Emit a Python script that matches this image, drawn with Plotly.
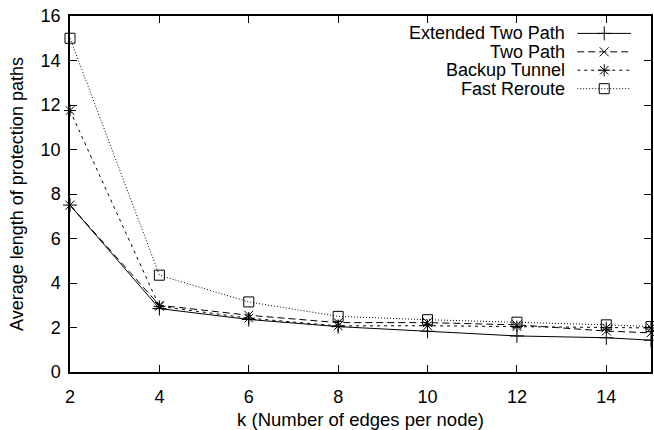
import plotly.graph_objects as go

k = [2, 4, 6, 8, 10, 12, 14, 15]
extended_two_path = [7.5, 2.85, 2.36, 2.04, 1.83, 1.62, 1.54, 1.43]
two_path = [7.5, 3.0, 2.55, 2.22, 2.22, 2.12, 1.84, 1.76]
backup_tunnel = [11.75, 2.95, 2.42, 2.07, 2.08, 2.04, 1.99, 1.98]
fast_reroute = [15.0, 4.35, 3.15, 2.5, 2.35, 2.24, 2.12, 2.04]

names = ["Extended Two Path", "Two Path", "Backup Tunnel", "Fast Reroute"]
series = [extended_two_path, two_path, backup_tunnel, fast_reroute]
dashes = ["solid", "7px,4px", "3px,4px", "1px,2px"]
symbols = ["cross-thin-open", "x-thin-open", "asterisk-open", "square-open"]
msizes = [10, 9, 10, 10]

FONT = "Liberation Sans, Arial, sans-serif"

fig = go.Figure()
for name, ys, d, s, ms in zip(names, series, dashes, symbols, msizes):
    fig.add_trace(go.Scatter(
        x=k, y=ys, mode="lines+markers", name=name,
        line=dict(color="black", width=1, dash=d),
        marker=dict(symbol=s, size=ms, color="black", line=dict(color="black", width=1)),
        showlegend=False, cliponaxis=False,
    ))

# custom gnuplot-style legend (text right, sample on the right)
for i, (name, d, s, ms) in enumerate(zip(names, dashes, symbols, msizes)):
    fig.add_trace(go.Scatter(
        x=[0.0, 0.5, 1.0], y=[i] * 3, mode="lines",
        line=dict(color="black", width=1, dash=d),
        xaxis="x2", yaxis="y2", showlegend=False, hoverinfo="skip",
    ))
    fig.add_trace(go.Scatter(
        x=[0.5], y=[i], mode="markers",
        marker=dict(symbol=s, size=ms, color="black", line=dict(color="black", width=1)),
        xaxis="x2", yaxis="y2", showlegend=False, hoverinfo="skip",
    ))
    fig.add_annotation(
        x=0.855, y=0.9515 - 0.0518 * i, xref="paper", yref="paper", text=name,
        showarrow=False, xanchor="right", yanchor="middle",
        font=dict(family=FONT, size=18, color="black"),
    )

fig.update_layout(
    width=654, height=430,
    margin=dict(l=70, r=1, t=16, b=57),
    plot_bgcolor="white", paper_bgcolor="white",
    font=dict(family=FONT, size=16, color="black"),
    xaxis=dict(
        range=[2, 15], tick0=2, dtick=2, ticks="inside", ticklen=7,
        tickcolor="black", showline=True, linecolor="black", linewidth=1.5,
        mirror="ticks", showgrid=False, zeroline=False,
        title=dict(text="k (Number of edges per node)", standoff=9,
                   font=dict(family=FONT, size=18.5, color="black")),
        tickfont=dict(family=FONT, size=18, color="black"), ticklabelstandoff=8,
    ),
    yaxis=dict(
        range=[0, 16], tick0=0, dtick=2, ticks="inside", ticklen=7,
        tickcolor="black", showline=True, linecolor="black", linewidth=1.5,
        mirror="ticks", showgrid=False, zeroline=False,
        title=dict(text="Average length of protection paths", standoff=12,
                   font=dict(family=FONT, size=18, color="black")),
        tickfont=dict(family=FONT, size=18, color="black"), ticklabelstandoff=4,
    ),
    xaxis2=dict(domain=[0.873, 0.966], range=[0, 1], visible=False, fixedrange=True),
    yaxis2=dict(domain=[0.770, 0.977], range=[3.5, -0.5], visible=False, fixedrange=True,
                anchor="x2"),
)

fig.write_html("out.html")
